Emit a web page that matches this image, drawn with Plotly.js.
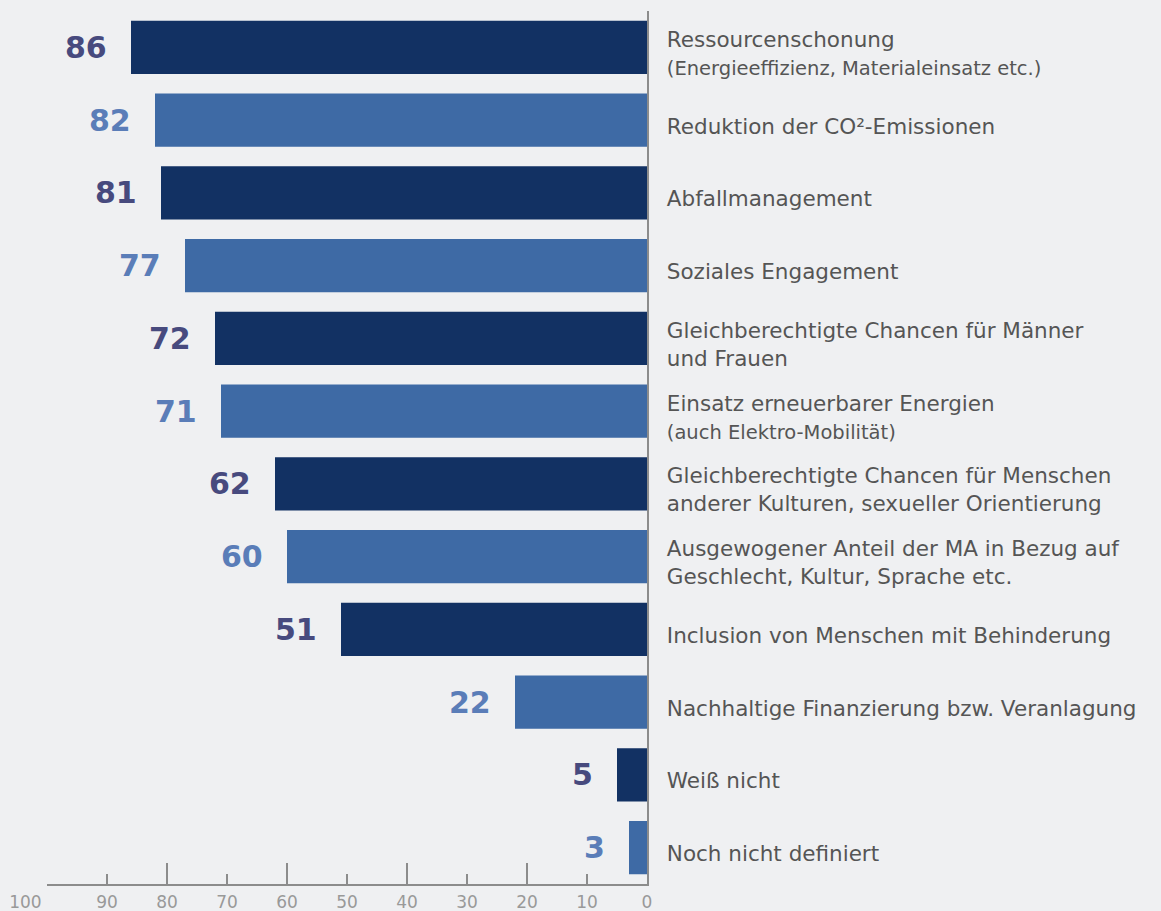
<!DOCTYPE html>
<html>
<head>
<meta charset="utf-8">
<script src="https://cdn.plot.ly/plotly-3.0.1.min.js"></script>
<style>html,body{margin:0;padding:0;background:#eff0f2;}</style>
</head>
<body>
<div id="chart" style="width:1161px;height:911px;"></div>
<script>
const categories = [
  "Ressourcenschonung<br><span style='font-size:19.5px'>(Energieeffizienz, Materialeinsatz etc.)</span>",
  "Reduktion der CO²-Emissionen",
  "Abfallmanagement",
  "Soziales Engagement",
  "Gleichberechtigte Chancen für Männer<br>und Frauen",
  "Einsatz erneuerbarer Energien<br><span style='font-size:19.5px'>(auch Elektro-Mobilität)</span>",
  "Gleichberechtigte Chancen für Menschen<br>anderer Kulturen, sexueller Orientierung",
  "Ausgewogener Anteil der MA in Bezug auf<br>Geschlecht, Kultur, Sprache etc.",
  "Inclusion von Menschen mit Behinderung",
  "Nachhaltige Finanzierung bzw. Veranlagung",
  "Weiß nicht",
  "Noch nicht definiert"
];
const values = [86, 82, 81, 77, 72, 71, 62, 60, 51, 22, 5, 3];
const tickValues = [100, 90, 80, 70, 60, 50, 40, 30, 20, 10, 0];
const tickLabels = ["100\u00a0\u00a0\u00a0\u00a0\u00a0\u00a0\u00a0\u00a0", "90", "80", "70", "60", "50", "40", "30", "20", "10", "0"];
const majorTicks = [100, 80, 60, 40, 20, 0];

const darkBar = "#123163", lightBar = "#3e6aa5";
const darkText = "#474a7e", lightText = "#5a7db8";
const barColors = values.map((v, i) => i % 2 === 0 ? darkBar : lightBar);
const textColors = values.map((v, i) => i % 2 === 0 ? darkText : lightText);

const FONT = "DejaVu Sans, Open Sans, sans-serif";

const trace = {
  type: "bar",
  orientation: "h",
  x: values,
  y: categories,
  marker: {color: barColors},
  hoverinfo: "none",
  xaxis: "x",
  yaxis: "y"
};
const trace2 = {
  type: "scatter",
  x: [0], y: [categories[0]],
  mode: "markers",
  marker: {opacity: 0},
  xaxis: "x2",
  yaxis: "y",
  hoverinfo: "none",
  showlegend: false
};

const annotations = values.map((v, i) => ({
  x: v, y: categories[i], xref: "x", yref: "y",
  text: String(v), showarrow: false,
  xanchor: "right", yanchor: "middle", xshift: -22,
  font: {family: FONT, size: 30, color: textColors[i], weight: 700}
}));

const layout = {
  width: 1161, height: 911,
  paper_bgcolor: "#eff0f2", plot_bgcolor: "#eff0f2",
  margin: {l: 47, r: 514, t: 11, b: 27},
  showlegend: false,
  bargap: 0.27,
  font: {family: FONT},
  xaxis: {
    range: [100, 0],
    tickmode: "array", tickvals: tickValues, ticktext: tickLabels,
    ticks: "inside", ticklen: 10, tickcolor: "#8c8c8c", tickwidth: 1.5,
    showline: true, linecolor: "#8c8c8c", linewidth: 1.5,
    showgrid: false, zeroline: false,
    tickfont: {family: FONT, size: 17, color: "#999999"},
    ticklabelstandoff: 2,
    fixedrange: true
  },
  xaxis2: {
    overlaying: "x", matches: "x", anchor: "y", side: "bottom",
    range: [100, 0],
    tickmode: "array", tickvals: majorTicks,
    ticks: "inside", ticklen: 21, tickcolor: "#8c8c8c", tickwidth: 1.5,
    showticklabels: false, showline: false, showgrid: false, zeroline: false
  },
  yaxis: {
    range: [11.5, -0.5],
    side: "right",
    showline: true, linecolor: "#8c8c8c", linewidth: 1.5,
    ticks: "", showgrid: false, zeroline: false,
    tickfont: {family: FONT, size: 21.5, color: "#555555"},
    ticklabelstandoff: 14,
    ticklabelshift: -6,
    fixedrange: true
  },
  annotations: annotations
};

Plotly.newPlot("chart", [trace, trace2], layout, {displayModeBar: false, staticPlot: true});
</script>
</body>
</html>
